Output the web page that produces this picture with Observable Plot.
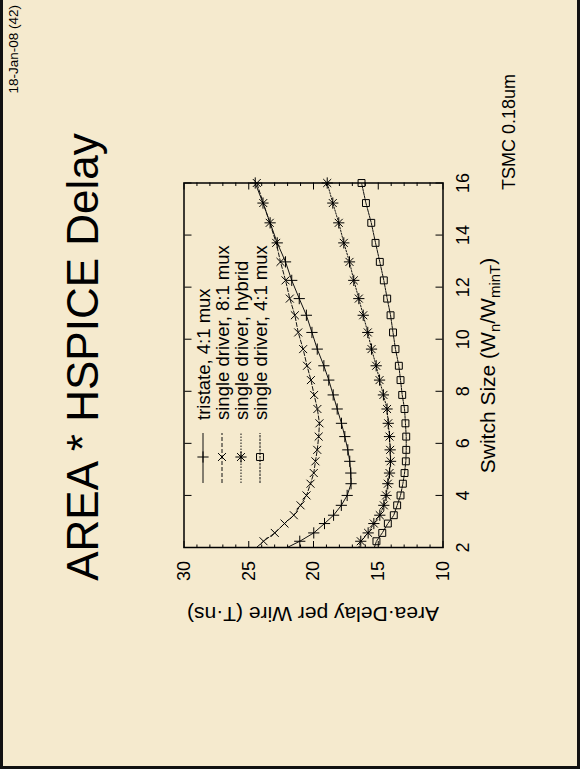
<!DOCTYPE html>
<html><head><meta charset="utf-8">
<script src="https://cdn.jsdelivr.net/npm/d3@7"></script>
<script src="https://cdn.jsdelivr.net/npm/@observablehq/plot@0.6"></script>
<style>
html,body{margin:0;padding:0;background:#fff;overflow:hidden;width:580px;height:776px;}
#page{position:absolute;left:0;top:0;width:580px;height:769px;box-sizing:border-box;border:3px solid #111;border-top:none;background:#F5EACE;}
#slide{position:absolute;left:0;top:776px;width:776px;height:580px;transform-origin:0 0;transform:rotate(-90deg);font-family:"Liberation Sans",Arial,Helvetica,sans-serif;}
#chart{position:absolute;left:150px;top:150px;}
#overlay{position:absolute;left:0;top:0;}
</style></head><body>
<div id="page"></div>
<div id="slide"><div id="chart"></div><svg id="overlay" width="776" height="580"></svg></div>
<script>
// Switch size (W_n / W_minT); first value is where the curves meet the left edge of the range (no marker there)
const switchSize = [2, 2.24, 2.56, 2.92, 3.24, 3.62, 4.0, 4.45, 4.86, 5.31, 5.75, 6.26, 6.77, 7.32, 7.86, 8.43, 8.98, 9.62, 10.26, 10.92, 11.56, 12.26, 12.97, 13.70, 14.47, 15.23, 16.0];
// Area·Delay per wire (T·ns)
const tristate = [22.03, 21.06, 19.98, 19.15, 18.45, 17.85, 17.40, 17.10, 17.12, 17.20, 17.35, 17.58, 17.84, 18.17, 18.48, 18.82, 19.20, 19.71, 20.12, 20.55, 21.10, 21.68, 22.16, 22.80, 23.35, 23.90, 24.50];
const mux8 = [24.40, 23.86, 22.99, 22.24, 21.52, 21.00, 20.54, 20.23, 19.98, 19.85, 19.71, 19.60, 19.54, 19.70, 19.95, 20.20, 20.50, 20.80, 21.18, 21.44, 21.83, 22.16, 22.55, 22.88, 23.38, 23.88, 24.38];
const hybrid = [16.50, 16.35, 15.78, 15.34, 14.88, 14.57, 14.39, 14.26, 14.13, 14.05, 14.08, 14.13, 14.23, 14.32, 14.60, 14.90, 15.16, 15.52, 15.81, 16.16, 16.50, 16.89, 17.22, 17.66, 18.05, 18.51, 18.94];
const mux4 = [15.30, 15.14, 14.69, 14.26, 13.80, 13.54, 13.28, 13.10, 12.97, 12.87, 12.84, 12.84, 12.90, 12.97, 13.15, 13.28, 13.41, 13.67, 13.86, 14.05, 14.31, 14.57, 14.88, 15.21, 15.54, 15.95, 16.29];
const seriesNames = ["tristate, 4:1 mux", "single driver, 8:1 mux", "single driver, hybrid", "single driver, 4:1 mux"];
const xTicks = [2, 4, 6, 8, 10, 12, 14, 16];
const yTicks = [10, 15, 20, 25, 30];
const yMinorTicks = [11, 12, 13, 14, 16, 17, 18, 19, 21, 22, 23, 24, 26, 27, 28, 29];

const FONT = '"Liberation Sans", Arial, Helvetica, sans-serif';
const seriesValues = [tristate, mux8, hybrid, mux4];
const styles = [
  {symbols: ["plus"], dash: null, r: 3.7},
  {symbols: ["times"], dash: "4,2", r: 3.7},
  {symbols: ["plus", "times"], dash: "1.5,1.5", r: 3.7},
  {symbols: ["square"], dash: "2.5,1", r: 3.9}
];
const rows = seriesValues.map((vals, s) => vals.map((v, i) => ({x: switchSize[i], y: v, i, s})));

const marks = [];
rows.forEach((data, s) => {
  marks.push(Plot.line(data, {x: "x", y: "y", stroke: "#111", strokeWidth: 1, strokeDasharray: styles[s].dash, clip: true}));
});
rows.forEach((data, s) => {
  const pts = data.filter(d => d.i > 0);
  styles[s].symbols.forEach(sym => {
    marks.push(Plot.dot(pts, {x: "x", y: "y", symbol: sym, r: styles[s].r, fill: "none", stroke: "#000", strokeWidth: 1}));
  });
});

const chart = Plot.plot({
  width: 470, height: 360,
  marginLeft: 78, marginRight: 27.5, marginTop: 33.5, marginBottom: 67.5,
  x: {domain: [2, 16]},
  y: {domain: [10, 30]},
  style: {background: "transparent", fontFamily: FONT, fontSize: "18px", color: "#000"},
  marks: [
    Plot.axisX(xTicks, {anchor: "bottom", tickSize: 0, tickPadding: 13, fontSize: 18, label: null}),
    Plot.axisX(xTicks, {anchor: "bottom", tickSize: -7, fill: "none", label: null}),
    Plot.axisX(xTicks, {anchor: "top", tickSize: -7, fill: "none", label: null}),
    Plot.axisY(yTicks, {anchor: "left", tickSize: 0, tickPadding: 13.5, fontSize: 18, label: null}),
    Plot.axisY(yTicks, {anchor: "left", tickSize: -7, fill: "none", label: null}),
    Plot.axisY(yTicks, {anchor: "right", tickSize: -7, fill: "none", label: null}),
    Plot.axisY(yMinorTicks, {anchor: "left", tickSize: -3.5, fill: "none", label: null}),
    Plot.axisY(yMinorTicks, {anchor: "right", tickSize: -3.5, fill: "none", label: null}),
    ...marks,
    Plot.frame({stroke: "#000", strokeWidth: 1.5})
  ]
});
document.getElementById("chart").appendChild(chart);

// Overlay: slide texts, axis labels, legend
const svg = d3.select("#overlay").style("font-family", FONT);
svg.append("text").attr("x", 771).attr("y", 18).attr("text-anchor", "end").attr("font-size", 13.5).text("18-Jan-08 (42)");
svg.append("text").attr("x", 419).attr("y", 98).attr("text-anchor", "middle").attr("font-size", 44).text("AREA * HSPICE Delay");
svg.append("text").attr("x", 586).attr("y", 515).attr("font-size", 18).text("TSMC 0.18um");

const xl = svg.append("text").attr("x", 410.5).attr("y", 495).attr("text-anchor", "middle").attr("font-size", 21);
xl.append("tspan").text("Switch Size (W");
xl.append("tspan").attr("dy", 5).attr("font-size", 15).text("n");
xl.append("tspan").attr("dy", -5).text("/W");
xl.append("tspan").attr("dy", 5).attr("font-size", 15).text("minT");
xl.append("tspan").attr("dy", -5).text(")");

svg.append("text").attr("transform", "translate(169,313) rotate(-90)").attr("text-anchor", "middle").attr("font-size", 21).text("Area\u00B7Delay per Wire (T\u00B7ns)");

const symMap = {plus: d3.symbolPlus, times: d3.symbolTimes, square: d3.symbolSquare};
seriesNames.forEach((name, s) => {
  const yy = 203 + s * 19;
  const g = svg.append("g");
  g.append("line").attr("x1", 293).attr("x2", 343).attr("y1", yy).attr("y2", yy)
    .attr("stroke", "#111").attr("stroke-width", 1).attr("stroke-dasharray", styles[s].dash);
  styles[s].symbols.forEach(sym => {
    g.append("path").attr("transform", `translate(319,${yy})`)
      .attr("d", d3.symbol(symMap[sym], Math.PI * styles[s].r * styles[s].r)())
      .attr("fill", "none").attr("stroke", "#000").attr("stroke-width", 1);
  });
  g.append("text").attr("x", 356).attr("y", yy).attr("dy", "0.36em").attr("font-size", 18.5).text(name);
});
</script>
</body></html>
